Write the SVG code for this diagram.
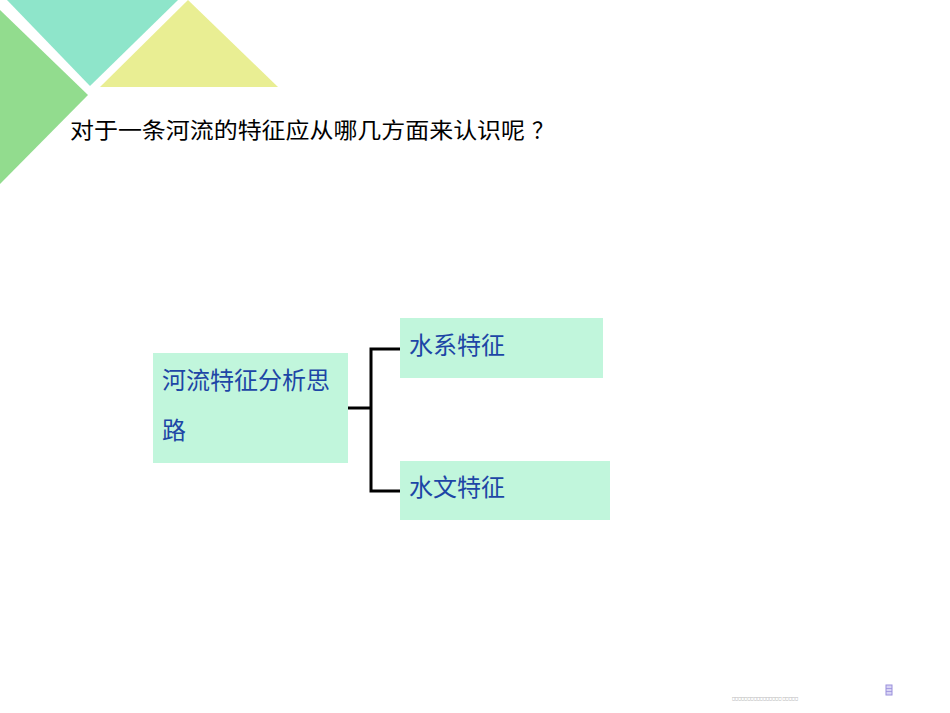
<svg xmlns="http://www.w3.org/2000/svg" width="950" height="713" viewBox="0 0 950 713">
<style>
.box{fill:#C1F6DC}
.lbl{font-family:"Liberation Sans","Noto Sans CJK SC",sans-serif;font-size:24px;fill:#1D46A6}
.title{font-family:"Noto Sans CJK SC",sans-serif;font-size:22px;fill:#000}
.conn{fill:none;stroke:#000;stroke-width:3}
.tiny{font-family:"DejaVu Sans",sans-serif;font-size:4.6px;fill:#777}
</style>
<rect width="950" height="713" fill="#fff"/>
<g id="decor">
<polygon points="7,0 178,0 90,86" fill="#8EE5CA"/>
<polygon points="0,10 88,95 0,184" fill="#92DC8E"/>
<polygon points="188,0 278,87 100,87" fill="#E9EE93"/>
</g>
<text class="title" y="138"><tspan x="70" textLength="455" lengthAdjust="spacingAndGlyphs">对于一条河流的特征应从哪几方面来认识呢</tspan><tspan x="532">？</tspan></text>
<g id="connectors">
<polyline class="conn" points="348,408 371,408"/>
<polyline class="conn" points="400,349 371,349 371,491 400,491"/>
</g>
<g id="root">
<rect class="box" x="153" y="353" width="195" height="110"/>
<text class="lbl" x="162" y="389">河流特征分析思</text>
<text class="lbl" x="162" y="439">路</text>
</g>
<g id="water-system">
<rect class="box" x="400" y="318" width="203" height="60"/>
<text class="lbl" x="409" y="354">水系特征</text>
</g>
<g id="hydrology">
<rect class="box" x="400" y="461" width="210" height="59"/>
<text class="lbl" x="409" y="496">水文特征</text>
</g>
<g id="footer">
<text class="tiny" x="732" y="700" textLength="66" lengthAdjust="spacingAndGlyphs">□□□□□□□□□□□□□□□□  □□□□□</text>
<rect x="886" y="685" width="6" height="10" fill="#D8D4F4" stroke="#9A90DC" stroke-width="1"/>
<line x1="886" y1="688.5" x2="892" y2="688.5" stroke="#9A90DC" stroke-width="0.8"/>
<line x1="886" y1="691.5" x2="892" y2="691.5" stroke="#9A90DC" stroke-width="0.8"/>
</g>
</svg>
